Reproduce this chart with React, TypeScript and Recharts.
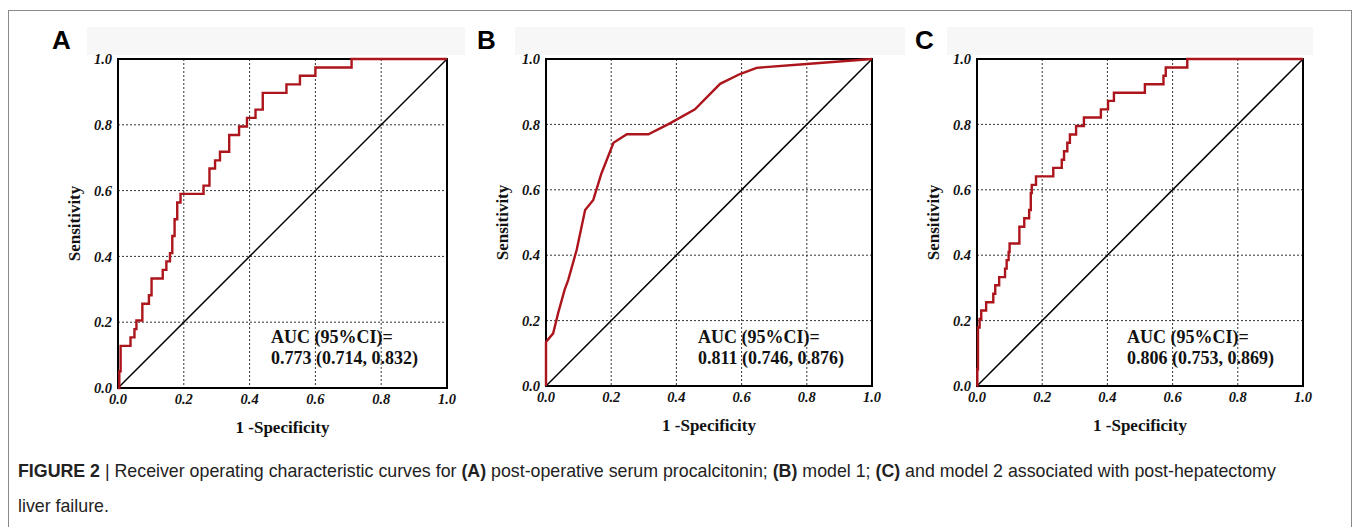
import {
  CartesianGrid,
  Line,
  LineChart,
  ReferenceArea,
  ReferenceLine,
  XAxis,
  YAxis,
} from "recharts";

// axis ticks shared by all three panels
const axisTicks = [0, 0.2, 0.4, 0.6, 0.8, 1.0];

// (A) post-operative serum procalcitonin
const fprA = [
  0, 0.004, 0.008, 0.038, 0.05, 0.056, 0.074, 0.094, 0.102, 0.136, 0.147, 0.158,
  0.165, 0.172, 0.18, 0.19, 0.26, 0.278, 0.295, 0.31, 0.338, 0.368, 0.392, 0.418,
  0.44, 0.512, 0.553, 0.6, 0.71, 1.0,
];
const tprA = [
  0, 0.051, 0.128, 0.154, 0.179, 0.205, 0.256, 0.282, 0.333, 0.359, 0.385, 0.41,
  0.462, 0.513, 0.564, 0.59, 0.615, 0.667, 0.692, 0.718, 0.769, 0.795, 0.821, 0.846,
  0.897, 0.923, 0.949, 0.974, 1.0, 1.0,
];

// (B) model 1
const fprB = [
  0, 0, 0.022, 0.037, 0.057, 0.068, 0.094, 0.12, 0.145, 0.17, 0.207, 0.248, 0.314,
  0.38, 0.457, 0.534, 0.595, 0.646, 0.789, 1.0,
];
const tprB = [
  0, 0.135, 0.161, 0.222, 0.294, 0.324, 0.416, 0.538, 0.569, 0.65, 0.744, 0.77, 0.77,
  0.803, 0.846, 0.924, 0.954, 0.973, 0.984, 1.0,
];

// (C) model 2
const fprC = [
  0, 0.001, 0.003, 0.008, 0.013, 0.028, 0.05, 0.056, 0.068, 0.086, 0.091, 0.097, 0.1,
  0.13, 0.145, 0.16, 0.165, 0.168, 0.181, 0.234, 0.26, 0.267, 0.277, 0.285, 0.304,
  0.328, 0.38, 0.402, 0.42, 0.515, 0.572, 0.579, 0.645, 1.0,
];
const tprC = [
  0, 0.051, 0.179, 0.205, 0.231, 0.256, 0.282, 0.308, 0.333, 0.359, 0.385, 0.41, 0.436,
  0.487, 0.513, 0.538, 0.59, 0.615, 0.641, 0.667, 0.692, 0.718, 0.744, 0.769, 0.795,
  0.821, 0.846, 0.872, 0.897, 0.923, 0.949, 0.974, 1.0, 1.0,
];

const aucLabels = ["0.773 (0.714, 0.832)", "0.811 (0.746, 0.876)", "0.806 (0.753, 0.869)"];
const panelLetters = ["A", "B", "C"];

const serif = "'Liberation Serif', 'Times New Roman', serif";
const sans = "'Liberation Sans', Arial, Helvetica, sans-serif";
const rocRed = "#ad151c";

const tickStyle = {
  fill: "#111",
  fontSize: 14.5,
  fontStyle: "italic",
  fontWeight: "bold",
  fontFamily: serif,
};

const fmt = (v: number) => v.toFixed(1);

interface IPanelProps {
  fpr: number[];
  tpr: number[];
  curve: "stepAfter" | "linear";
  auc: string;
  left: number;
  plotW: number;
  plotH: number;
  textX: number;
}

function RocPanel({ fpr, tpr, curve, auc, left, plotW, plotH, textX }: IPanelProps) {
  const data = fpr.map((x, i) => ({ fpr: x, tpr: tpr[i] }));
  const width = 60 + plotW + 14;
  const height = 10 + plotH + 50;

  return (
    <div style={{ position: "absolute", left, top: 49 }}>
      <LineChart
        width={width}
        height={height}
        data={data}
        margin={{ top: 10, right: 14, bottom: 0, left: 0 }}
      >
        <CartesianGrid stroke="#333" strokeDasharray="2 2" />
        <XAxis
          dataKey="fpr"
          type="number"
          domain={[0, 1]}
          ticks={axisTicks}
          tickFormatter={fmt}
          axisLine={false}
          tickLine={false}
          tickSize={0}
          tickMargin={6}
          height={50}
          tick={tickStyle}
          label={{
            value: "1 -Specificity",
            position: "insideBottom",
            offset: 5,
            fill: "#111",
            fontSize: 17,
            fontWeight: "bold",
            fontFamily: serif,
          }}
        />
        <YAxis
          type="number"
          domain={[0, 1]}
          ticks={axisTicks}
          tickFormatter={fmt}
          axisLine={false}
          tickLine={false}
          tickSize={0}
          tickMargin={6}
          width={60}
          tick={tickStyle}
          label={{
            value: "Sensitivity",
            angle: -90,
            position: "insideLeft",
            offset: 16,
            fill: "#111",
            fontSize: 17,
            fontWeight: "bold",
            fontFamily: serif,
            style: { textAnchor: "middle" },
          }}
        />
        <ReferenceArea x1={0} x2={1} y1={0} y2={1} fill="none" stroke="#000" strokeWidth={2} />
        <ReferenceLine
          segment={[
            { x: 0, y: 0 },
            { x: 1, y: 1 },
          ]}
          stroke="#000"
          strokeWidth={1.5}
        />
        <Line
          dataKey="tpr"
          type={curve}
          stroke={rocRed}
          strokeWidth={2.4}
          dot={false}
          isAnimationActive={false}
        />
        <text
          x={textX}
          y={288}
          dominantBaseline="central"
          fontFamily={serif}
          fontWeight="bold"
          fontSize={18}
          fill="#111"
        >
          AUC (95%CI)=
        </text>
        <text
          x={textX}
          y={309}
          dominantBaseline="central"
          fontFamily={serif}
          fontWeight="bold"
          fontSize={18}
          fill="#111"
        >
          {auc}
        </text>
      </LineChart>
    </div>
  );
}

const strips = [
  { left: 87, width: 378 },
  { left: 515, width: 390 },
  { left: 947, width: 366 },
];
const letterLeft = [52, 477, 915];

export default function App() {
  return (
    <div
      style={{
        position: "absolute",
        left: 0,
        top: 0,
        width: 1355,
        height: 527,
        background: "#fff",
        overflow: "hidden",
      }}
    >
      <div
        style={{
          position: "absolute",
          left: 8,
          top: 10,
          width: 1342,
          height: 600,
          border: "1.5px solid #8a8a8a",
        }}
      />
      {strips.map((s, i) => (
        <div
          key={i}
          style={{
            position: "absolute",
            left: s.left,
            top: 27,
            width: s.width,
            height: 28,
            background: "#f7f7f7",
          }}
        />
      ))}
      {panelLetters.map((l, i) => (
        <div
          key={l}
          style={{
            position: "absolute",
            left: letterLeft[i],
            top: 27,
            fontFamily: sans,
            fontWeight: "bold",
            fontSize: 26,
            lineHeight: 1,
            color: "#000",
          }}
        >
          {l}
        </div>
      ))}
      <RocPanel fpr={fprA} tpr={tprA} curve="stepAfter" auc={aucLabels[0]} left={58} plotW={329} plotH={329} textX={213} />
      <RocPanel fpr={fprB} tpr={tprB} curve="linear" auc={aucLabels[1]} left={486} plotW={326} plotH={327} textX={212} />
      <RocPanel fpr={fprC} tpr={tprC} curve="stepAfter" auc={aucLabels[2]} left={917} plotW={326} plotH={327} textX={210} />
      <div
        style={{
          position: "absolute",
          left: 18,
          top: 454,
          width: 1330,
          fontFamily: sans,
          fontSize: 17.8,
          lineHeight: "35px",
          color: "#222",
          whiteSpace: "nowrap",
        }}
      >
        <b>FIGURE 2</b> | Receiver operating characteristic curves for <b>(A)</b> post-operative
        serum procalcitonin; <b>(B)</b> model 1; <b>(C)</b> and model 2 associated with
        post-hepatectomy
        <br />
        liver failure.
      </div>
    </div>
  );
}
